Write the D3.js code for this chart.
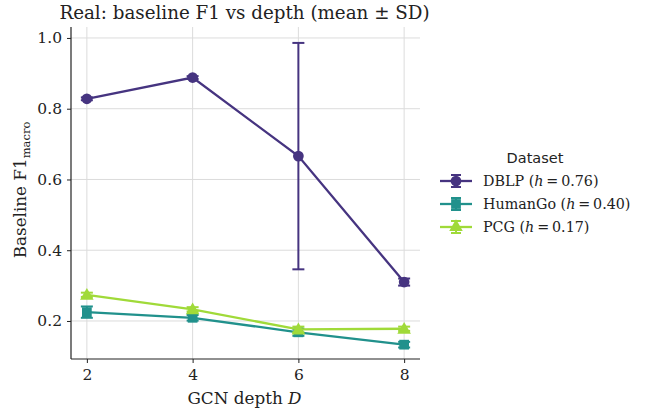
<!DOCTYPE html>
<html>
<head>
<meta charset="utf-8">
<script src="https://cdn.jsdelivr.net/npm/d3@7"></script>
<style>
  body { margin: 0; background: #fff; }
  text { font-family: "DejaVu Serif", serif; fill: #222; }
</style>
</head>
<body>
<div id="chart"></div>
<script>
// data
const depths = [2, 4, 6, 8]
const seriesNames = ["DBLP", "HumanGo", "PCG"]
const homophily = ["0.76", "0.40", "0.17"]
const dblpMean = [0.828, 0.888, 0.666, 0.310]
const dblpSd = [0.004, 0.004, 0.320, 0.010]
const humangoMean = [0.225, 0.209, 0.168, 0.133]
const humangoSd = [0.016, 0.008, 0.010, 0.008]
const pcgMean = [0.274, 0.233, 0.176, 0.178]
const pcgSd = [0.006, 0.006, 0.008, 0.006]
const colors = ["#463480", "#21918c", "#a0da39"]
const yTicks = [0.2, 0.4, 0.6, 0.8, 1.0]

const series = [
    { name: seriesNames[0], h: homophily[0], mean: dblpMean, sd: dblpSd, shape: "circle" },
    { name: seriesNames[1], h: homophily[1], mean: humangoMean, sd: humangoSd, shape: "square" },
    { name: seriesNames[2], h: homophily[2], mean: pcgMean, sd: pcgSd, shape: "triangle" }
]

const W = 651, H = 413
const margin = { top: 27, right: 231, bottom: 54, left: 71 }
const width = W - margin.left - margin.right,
    height = H - margin.top - margin.bottom

const svg = d3.select("#chart").append("svg")
    .attr("width", W).attr("height", H)

svg.append("text")
    .attr("x", margin.left + width / 2 - 1).attr("y", 19)
    .attr("text-anchor", "middle").style("font-size", "18.3px")
    .text("Real: baseline F1 vs depth (mean \u00b1 SD)")

const g = svg.append("g").attr("transform", `translate(${margin.left},${margin.top})`)

const x = d3.scaleLinear().domain([1.7, 8.3]).range([0, width])
const y = d3.scaleLinear().domain([0.0925, 1.031]).range([height, 0])

// grid
g.append("g").selectAll("line").data(depths).join("line")
    .attr("x1", d => x(d)).attr("x2", d => x(d)).attr("y1", 0).attr("y2", height)
    .attr("stroke", "#dcdcdc").attr("stroke-width", 1)
g.append("g").selectAll("line").data(yTicks).join("line")
    .attr("y1", d => y(d)).attr("y2", d => y(d)).attr("x1", 0).attr("x2", width)
    .attr("stroke", "#dcdcdc").attr("stroke-width", 1)

const xAxis = g.append("g").attr("transform", `translate(0,${height})`)
    .call(d3.axisBottom(x).tickValues(depths).tickSize(4).tickPadding(6).tickFormat(d3.format("d")))
const yAxis = g.append("g")
    .call(d3.axisLeft(y).tickValues(yTicks).tickSize(4).tickPadding(5).tickFormat(d3.format(".1f")))
for (const ax of [xAxis, yAxis]) {
    ax.select(".domain").attr("stroke", "#222").attr("stroke-width", 1.2)
    ax.selectAll(".tick line").attr("stroke", "#222")
    ax.selectAll(".tick text").style("font-size", "15.5px").attr("fill", "#222")
        .style("font-family", "DejaVu Serif, serif")
}
// cut spine ends the way matplotlib does
xAxis.select(".domain").attr("d", `M0,0H${width}`)
yAxis.select(".domain").attr("d", `M0,0V${height}`)

const xl = svg.append("text")
    .attr("x", margin.left + width / 2 - 1).attr("y", H - 9)
    .attr("text-anchor", "middle").style("font-size", "16.8px")
xl.append("tspan").text("GCN depth ")
xl.append("tspan").style("font-style", "italic").text("D")

const yl = svg.append("text")
    .attr("transform", `translate(26,${margin.top + height / 2 - 3}) rotate(-90)`)
    .attr("text-anchor", "middle").style("font-size", "16.8px")
yl.append("tspan").text("Baseline F1")
yl.append("tspan").attr("dy", 4).style("font-size", "11.5px").text("macro")

const symbolType = { circle: d3.symbolCircle, square: d3.symbolSquare, triangle: d3.symbolTriangle }
const symbolSize = { circle: 90, square: 95, triangle: 80 }

const line = d3.line().x((d, i) => x(depths[i])).y(d => y(d))

series.forEach((s, k) => {
    const c = colors[k]
    const sg = g.append("g")
    // error bars
    s.mean.forEach((m, i) => {
        const x0 = x(depths[i]), lo = y(m - s.sd[i]), hi = y(m + s.sd[i])
        sg.append("line").attr("x1", x0).attr("x2", x0).attr("y1", lo).attr("y2", hi)
            .attr("stroke", c).attr("stroke-width", 2)
        for (const yy of [lo, hi]) {
            sg.append("line").attr("x1", x0 - 6).attr("x2", x0 + 6).attr("y1", yy).attr("y2", yy)
                .attr("stroke", c).attr("stroke-width", 2)
        }
    })
    sg.append("path").datum(s.mean).attr("d", line)
        .attr("fill", "none").attr("stroke", c).attr("stroke-width", 2.3)
    sg.selectAll(".pt").data(s.mean).join("path")
        .attr("transform", (d, i) => `translate(${x(depths[i])},${y(d) + (s.shape === "triangle" ? 1 : 0)})`)
        .attr("d", d3.symbol().type(symbolType[s.shape]).size(symbolSize[s.shape]))
        .attr("fill", c)
})

// legend
const lg = svg.append("g").attr("transform", "translate(438,0)")
lg.append("text").attr("x", 97).attr("y", 163).attr("text-anchor", "middle")
    .style("font-size", "14.5px").style("font-family", "DejaVu Sans, sans-serif").text("Dataset")
series.forEach((s, k) => {
    const c = colors[k], yy = 181 + k * 23
    const row = lg.append("g").attr("transform", `translate(0,${yy})`)
    row.append("line").attr("x1", 2).attr("x2", 34).attr("stroke", c).attr("stroke-width", 2.3)
    row.append("line").attr("x1", 18).attr("x2", 18).attr("y1", -6).attr("y2", 6).attr("stroke", c).attr("stroke-width", 2)
    row.append("line").attr("x1", 13).attr("x2", 23).attr("y1", -6).attr("y2", -6).attr("stroke", c).attr("stroke-width", 2)
    row.append("line").attr("x1", 13).attr("x2", 23).attr("y1", 6).attr("y2", 6).attr("stroke", c).attr("stroke-width", 2)
    row.append("path").attr("transform", "translate(18,0)")
        .attr("d", d3.symbol().type(symbolType[s.shape]).size(symbolSize[s.shape]))
        .attr("fill", c)
    const t = row.append("text").attr("x", 45).attr("y", 5).style("font-size", "14.3px")
    t.append("tspan").text(s.name + " (")
    t.append("tspan").style("font-style", "italic").text("h")
    t.append("tspan").text("\u2009=\u2009" + s.h + ")")
})
</script>
</body>
</html>
